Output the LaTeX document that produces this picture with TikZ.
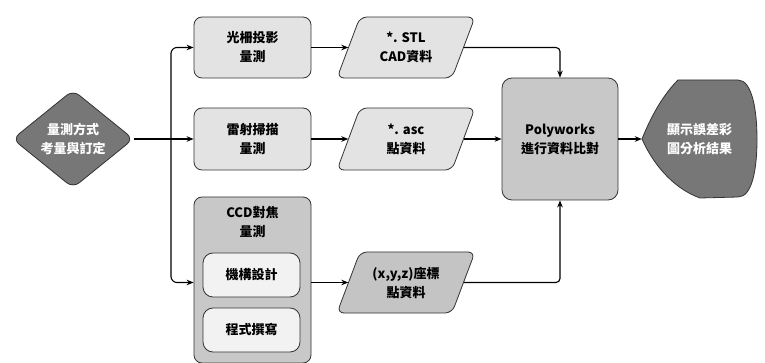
\documentclass[tikz,border=0pt]{standalone}
\usepackage{fontspec}
\setmainfont{Noto Sans CJK TC}
\usetikzlibrary{shapes.geometric,arrows.meta,calc}
\begin{document}
\begin{tikzpicture}[x=1pt,y=-1pt,
  font=\fontsize{13}{19}\selectfont\bfseries,
  bx/.style={draw=black!80,line width=0.8pt,rounded corners=8pt,align=center,inner sep=0pt},
  txt/.style={align=center,inner sep=0pt},
  pshape/.style={draw=black!80,line width=0.8pt,rounded corners=7pt},
  conn/.style={line width=1.1pt,-{Stealth[length=7pt,width=5.5pt]}},
  connp/.style={line width=1.1pt},
]
\definecolor{lg}{HTML}{E3E3E3}
\definecolor{mg}{HTML}{C8C8C8}
\definecolor{pg}{HTML}{C4C4C4}
\definecolor{wg}{HTML}{F2F2F2}
\definecolor{dg}{HTML}{777777}
\useasboundingbox (0,0) rectangle (765,363);

% diamond
\node[diamond,draw=black!80,line width=0.8pt,fill=dg,rounded corners=8pt,minimum width=121pt,minimum height=98pt,inner sep=0pt,text=white,align=center] (d) at (73,139) {量測方式\\考量與訂定};

% boxes
\node[bx,fill=lg,minimum width=117pt,minimum height=61pt] (b1) at (252.5,47.5) {光柵投影\\量測};
\node[bx,fill=lg,minimum width=117pt,minimum height=62pt] (b2) at (252.5,139) {雷射掃描\\量測};
\node[bx,fill=mg,minimum width=117pt,minimum height=166pt] (b3) at (252.5,280) {};
\node[txt] (b3t) at (252.5,222) {CCD對焦\\量測};
\node[bx,fill=wg,rounded corners=10pt,minimum width=97pt,minimum height=44pt] (i1) at (251.5,275) {機構設計};
\node[bx,fill=wg,rounded corners=10pt,minimum width=97pt,minimum height=44pt] (i2) at (251.5,330) {程式撰寫};

% parallelograms
\draw[pshape,fill=lg] (337,78) -- (360,17) -- (475,17) -- (452,78) -- cycle;
\node[txt,minimum width=115pt,minimum height=61pt] (p1) at (406,47.5) {*. STL\\CAD資料};
\draw[pshape,fill=lg] (337,170) -- (360,108) -- (475,108) -- (452,170) -- cycle;
\node[txt,minimum width=115pt,minimum height=62pt] (p2) at (406,139) {*. asc\\點資料};
\draw[pshape,fill=pg] (337,313) -- (360,252) -- (475,252) -- (452,313) -- cycle;
\node[txt,minimum width=115pt,minimum height=61pt] (p3) at (406,282.5) {(x,y,z)座標\\點資料};

% polyworks
\node[bx,fill=mg,rounded corners=10pt,minimum width=116pt,minimum height=122pt] (pw) at (560,139) {Polyworks\\進行資料比對};

% result shape
\draw[draw=black!80,line width=0.8pt,fill=dg] (642,139) .. controls (652,114) and (664,94) .. (678,80) -- (738,80) .. controls (752,80) and (757,110) .. (757,139) .. controls (757,170) and (752,197) .. (738,197) -- (700,198) .. controls (672,188) and (652,162) .. (642,139) -- cycle;
\node[txt,text=white,minimum width=115pt,minimum height=118pt] (res) at (699.5,139) {顯示誤差彩\\圖分析結果};

% connectors
\coordinate (br) at (171,139);
\draw[line width=1.8pt] (d.east) -- (br);
\draw[conn] (br) -- (b2.west);
\draw[conn,rounded corners=6pt] (br) |- (b1.west);
\draw[conn,rounded corners=6pt] (br) |- (b3.west |- p3.west);
\draw[conn] (b1.east) -- (p1.west);
\draw[conn] (b2.east) -- (p2.west);
\draw[conn] (b3.east |- p3.west) -- (p3.west);
\draw[conn,rounded corners=4pt] (p1.east) -| (pw.north);
\draw[conn] (p2.east) -- (pw.west);
\draw[conn,rounded corners=4pt] (p3.east) -| (pw.south);
\draw[conn] (pw.east) -- (res.west);
\end{tikzpicture}
\end{document}
